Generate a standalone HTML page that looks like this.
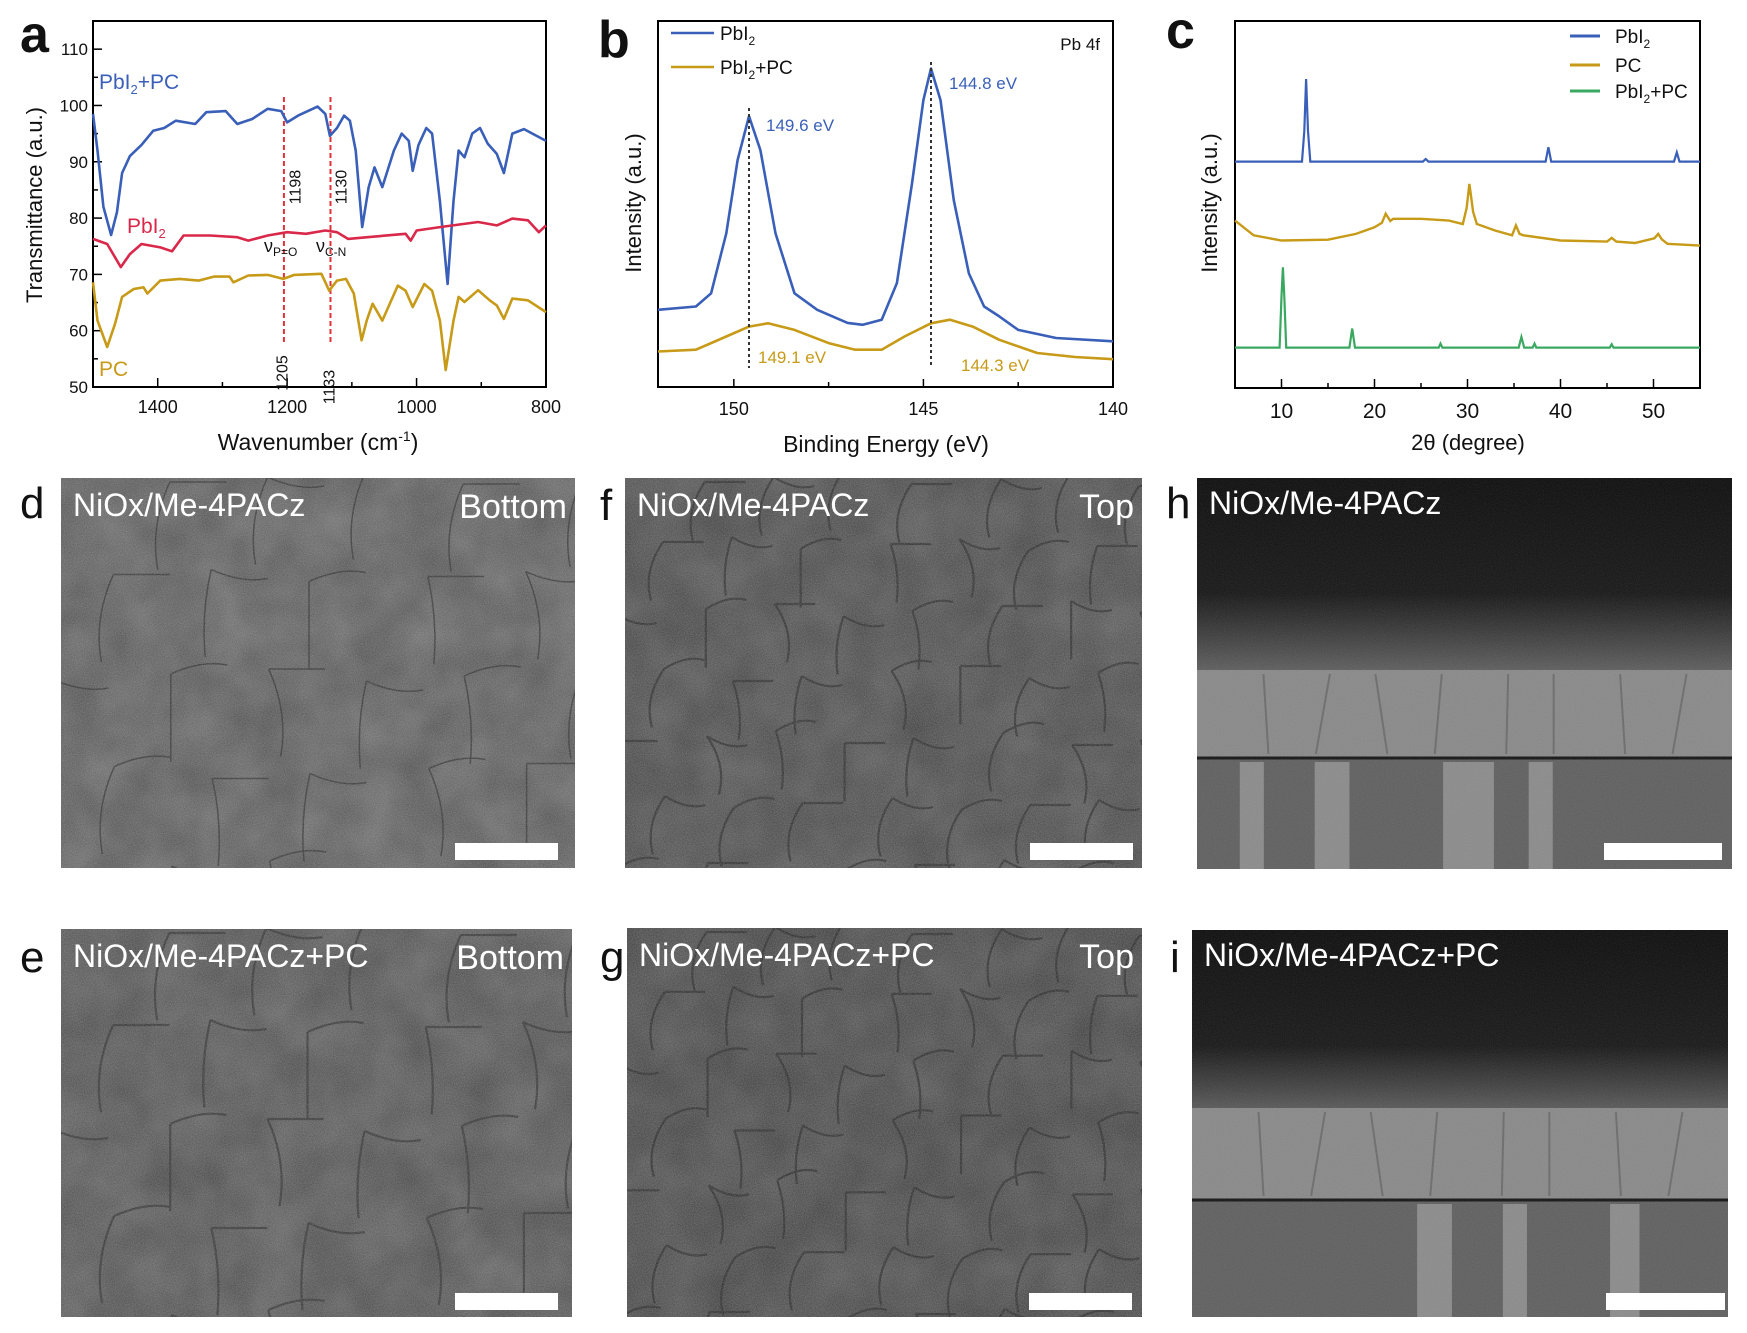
<!DOCTYPE html>
<html><head><meta charset="utf-8">
<style>
html,body{margin:0;padding:0;background:#fff;width:1747px;height:1333px;overflow:hidden;}
svg{display:block;font-family:"Liberation Sans",Arial,sans-serif;}
</style></head>
<body>
<svg id="fig" width="1747" height="1333" viewBox="0 0 1747 1333" xmlns="http://www.w3.org/2000/svg">
<defs>
<filter id="grain" x="0" y="0" width="100%" height="100%">
<feTurbulence type="fractalNoise" baseFrequency="0.9" numOctaves="2" seed="3"/>
<feColorMatrix type="matrix" values="0 0 0 0 1  0 0 0 0 1  0 0 0 0 1  0 0 0 0.28 0"/>
</filter>
<filter id="grainlite" x="0" y="0" width="100%" height="100%">
<feTurbulence type="fractalNoise" baseFrequency="0.9" numOctaves="2" seed="5"/>
<feColorMatrix type="matrix" values="0 0 0 0 1  0 0 0 0 1  0 0 0 0 1  0 0 0 0.12 0"/>
</filter>
<filter id="blotch" x="0" y="0" width="100%" height="100%">
<feTurbulence type="fractalNoise" baseFrequency="0.02" numOctaves="3" seed="7"/>
<feColorMatrix type="matrix" values="0 0 0 0 0  0 0 0 0 0  0 0 0 0 0  0 0 0 0.35 0"/>
</filter>
<linearGradient id="hgrad" x1="0" y1="0" x2="0" y2="1">
<stop offset="0" stop-color="#0a0a0a"/><stop offset="0.6" stop-color="#141414"/><stop offset="1" stop-color="#5a5a5a"/>
</linearGradient>
<linearGradient id="igrad" x1="0" y1="0" x2="0" y2="1">
<stop offset="0" stop-color="#0a0a0a"/><stop offset="0.65" stop-color="#151515"/><stop offset="1" stop-color="#555"/>
</linearGradient>
</defs>
<g id="charts"></g>
<g id="sem"></g>
</svg>
<script>
// ---------- Panel a data (FTIR) ----------
const ftirBlueX=[1500,1493,1484,1472,1463,1455,1443,1425,1407,1390,1372,1342,1325,1295,1277,1254,1230,1209,1200,1183,1153,1141,1134,1123,1112,1103,1094,1084,1074,1065,1053,1035,1023,1012,1006,997,985,976,964,952,943,935,926,914,902,890,876,865,852,834,800];
const ftirBlueY=[98.5,92,82,77,81,88,91,93,95.5,96,97.3,96.7,98.8,99,96.7,97.6,99.4,99,97,98.2,99.8,98.5,94.6,96,98.2,97.3,92,78.4,85.5,89,85.5,92,95,93.7,88.4,93,96,95,83,68.3,83,92,90.8,95,96,93.2,91.4,88,95,95.8,93.7];
const ftirRedX=[1500,1478,1457,1443,1425,1396,1378,1360,1319,1277,1260,1230,1200,1171,1141,1123,1106,1076,1017,1009,1000,964,905,876,852,828,811,800];
const ftirRedY=[76.3,75.4,71.3,73.6,75.4,74.8,74.1,76.9,76.9,76.6,76,76.9,77.5,77.2,77.8,77.5,76.3,76.6,77.2,76,77.8,78.4,79.3,78.7,79.9,79.6,77.5,78.7];
const ftirGoldX=[1500,1493,1478,1466,1455,1437,1422,1416,1396,1366,1337,1313,1289,1283,1260,1230,1206,1189,1147,1135,1123,1109,1097,1085,1077,1068,1053,1029,1017,1006,988,976,964,955,943,935,926,905,887,876,865,852,828,800];
const ftirGoldY=[68.6,61.8,57.1,61.2,66,67.4,67.7,66.6,68.9,69.2,68.9,69.6,69.6,68.6,69.8,69.9,69.2,69.9,70.1,67.1,68.9,69.2,66.6,58.3,61.8,64.8,61.8,68,67.1,64.2,68.3,67.1,61.8,53,61.8,66,65.1,67.2,65.4,64.5,62.1,65.7,65.4,63.3];
const ftirYTicks=[50,60,70,80,90,100,110];
const ftirXTicks=[1400,1200,1000,800];
const ftirMarks=[1205,1133];
// ---------- Panel b data (XPS) ----------
const xpsBlueX=[152.0,151.0,150.6,150.2,149.9,149.6,149.3,148.9,148.4,147.8,147.0,146.6,146.1,145.7,145.3,145.0,144.8,144.55,144.2,143.8,143.4,143.0,142.5,141.5,140.0];
const xpsBlueY=[21.1,22,25.6,42,62,74,64.7,42,25.6,21.1,17.5,17,18.4,28.4,55.6,78.4,87,78.4,51,31,22,19.3,15.6,13.4,12.5];
const xpsGoldX=[152,151,150.2,149.6,149.1,148.4,147.5,146.8,146.1,145.5,144.8,144.3,143.7,143.0,142.0,141.0,140];
const xpsGoldY=[9.7,10.2,13.8,16.5,17.4,15.6,12,10.2,10.2,13.8,17.4,18.4,16.5,12.9,9.3,8.2,7.6];
const xpsXTicks=[150,145,140];
const xpsPeaks=[149.6,144.8];
// ---------- Panel c data (XRD) ----------
const xrdBlueX=[5,12.2,12.45,12.65,12.85,13.1,25.2,25.5,25.8,38.4,38.7,39.0,52.2,52.5,52.8,55];
const xrdBlueY=[61.7,61.7,70,84.2,70,61.7,61.7,62.4,61.7,61.7,65.6,61.7,61.7,64.2,61.7,61.7];
const xrdGoldX=[5,7,10,15,18,20,20.8,21.2,21.7,22,25,28,29.5,29.9,30.2,30.6,31,33,34.8,35.2,35.6,36,40,45,45.5,46,48,50.1,50.5,50.9,51.5,55];
const xrdGoldY=[45.6,41.6,40.2,40.4,42,43.8,45,47.5,45.5,46.1,46.1,45.6,44.7,49,55.6,48,44.7,42.9,41.6,44.3,42,41.6,40.2,39.9,40.9,39.9,39.5,40.8,42,40.5,39.3,38.8];
const xrdGreenX=[5,9.8,10.0,10.15,10.3,10.5,17.3,17.6,17.9,26.9,27.1,27.3,35.5,35.8,36.1,37.0,37.2,37.4,45.3,45.5,45.7,55];
const xrdGreenY=[11,11,25,32.9,25,11,11,16.2,11,11,12.1,11,11,13.9,11,11,12.1,11,11,11.9,11,11];
const xrdXTicks=[10,20,30,40,50];

const NS="http://www.w3.org/2000/svg";
const root=document.getElementById('charts');
function mk(tag,attrs,parent){const e=document.createElementNS(NS,tag);for(const k in attrs)e.setAttribute(k,attrs[k]);(parent||root).appendChild(e);return e;}
function txt(s,attrs,parent){const e=mk('text',attrs,parent);e.textContent=s;return e;}
function pathFrom(xs,ys,sx,sy){return xs.map((v,i)=>(i?'L':'M')+sx(v).toFixed(1)+','+sy(ys[i]).toFixed(1)).join('');}

// ===== Panel a =====
(function(){
const X0=93,X1=546,Y0=21,Y1=387;
const sx=v=>X0+(1500-v)/700*(X1-X0);
const sy=v=>Y1-(v-50)/65*(Y1-Y0);
const g=mk('g',{});


const fr=mk('rect',{x:X0,y:Y0,width:X1-X0,height:Y1-Y0,fill:'none',stroke:'#000','stroke-width':2},g);


for(let v=55;v<=110;v+=10){const t=mk('line',{x1:X0,x2:X0+5,y1:sy(v),y2:sy(v),stroke:'#000','stroke-width':1.5},g);}
ftirYTicks.forEach(v=>{
 const t=mk('line',{x1:X0,x2:X0+9,y1:sy(v),y2:sy(v),stroke:'#000','stroke-width':1.5},g);
 
 
 const l=txt(String(v),{x:X0-5,y:sy(v)+6,'text-anchor':'end','font-size':17,fill:'#111'},g);
 
 
});
[1300,1100,900].forEach(v=>{const t=mk('line',{x1:sx(v),x2:sx(v),y1:Y1,y2:Y1-5,stroke:'#000','stroke-width':1.5},g);});
ftirXTicks.forEach(v=>{
 const t=mk('line',{x1:sx(v),x2:sx(v),y1:Y1,y2:Y1-9,stroke:'#000','stroke-width':1.5},g);
 
 
 const l=txt(String(v),{x:sx(v),y:413,'text-anchor':'middle','font-size':18,fill:'#111'},g);
 
 
});
const xt=txt('Wavenumber (cm',{x:318,y:450,'text-anchor':'middle','font-size':23,fill:'#111'},g);


const sup=mk('tspan',{'font-size':14,dy:-9},xt);sup.textContent='-1';
const cl=mk('tspan',{'font-size':23,dy:9},xt);cl.textContent=')';
const yt=txt('Transmittance (a.u.)',{x:0,y:0,'text-anchor':'middle','font-size':22,fill:'#111',transform:'translate(42,205) rotate(-90)'},g);


ftirMarks.forEach(v=>{
 const d=mk('line',{x1:sx(v),x2:sx(v),y1:sy(101.5),y2:sy(57.5),stroke:'#e0303a','stroke-width':2,'stroke-dasharray':'5,3'},g);
 
 
});
const s1=mk('path',{d:pathFrom(ftirBlueX,ftirBlueY,sx,sy),fill:'none',stroke:'#3a5fb8','stroke-width':2.6,'stroke-linejoin':'round'},g);


const s2=mk('path',{d:pathFrom(ftirRedX,ftirRedY,sx,sy),fill:'none',stroke:'#d9284a','stroke-width':2.6,'stroke-linejoin':'round'},g);


const s3=mk('path',{d:pathFrom(ftirGoldX,ftirGoldY,sx,sy),fill:'none',stroke:'#c79a17','stroke-width':2.6,'stroke-linejoin':'round'},g);


const lab=[['1198',296,187],['1130',342,187],['1205',283,373],['1133',330,387]];
lab.forEach(a=>{const e=txt(a[0],{x:0,y:0,'text-anchor':'middle','dominant-baseline':'central','font-size':16,fill:'#111',transform:`translate(${a[1]},${a[2]}) rotate(-90)`},g);});
const n1=txt('ν',{x:264,y:252,'font-size':18,fill:'#111'},g);


const n1s=mk('tspan',{'font-size':12,dy:4},n1);n1s.textContent='P=O';
const n2=txt('ν',{x:316,y:252,'font-size':18,fill:'#111'},g);


const n2s=mk('tspan',{'font-size':12,dy:4},n2);n2s.textContent='C-N';
function subLabel(main,sub,rest,x,y,color,name){const e=txt(main,{x:x,y:y,'font-size':21,fill:color},g);if(sub){const s=mk('tspan',{'font-size':13,dy:5},e);s.textContent=sub;const r=mk('tspan',{'font-size':21,dy:-5},e);r.textContent=rest;}return e;}
subLabel('PbI','2','+PC',99,89,'#3a5fb8','label-pbi2-pc');
subLabel('PbI','2','',127,233,'#d9284a','label-pbi2');
subLabel('PC','','',99,376,'#c79a17','label-pc');
const pl=txt('a',{x:20,y:52,'font-size':52,'font-weight':'bold',fill:'#111'},g);


})();

// ===== Panel b =====
(function(){
const X0=658,X1=1113,Y0=21,Y1=387;
const sx=v=>X0+(152-v)/12*(X1-X0);
const sy=v=>Y1-v/100*(Y1-Y0);
const g=mk('g',{});


const fr=mk('rect',{x:X0,y:Y0,width:X1-X0,height:Y1-Y0,fill:'none',stroke:'#000','stroke-width':2},g);


[147.5,142.5].forEach(v=>{const t=mk('line',{x1:sx(v),x2:sx(v),y1:Y1,y2:Y1-5,stroke:'#000','stroke-width':1.5},g);});
xpsXTicks.forEach(v=>{
 const t=mk('line',{x1:sx(v),x2:sx(v),y1:Y1,y2:Y1-8,stroke:'#000','stroke-width':1.5},g);
 
 
 const l=txt(String(v),{x:sx(v),y:415,'text-anchor':'middle','font-size':18,fill:'#111'},g);
 
 
});
const xt=txt('Binding Energy (eV)',{x:886,y:452,'text-anchor':'middle','font-size':23,fill:'#111'},g);


const yt=txt('Intensity (a.u.)',{x:0,y:0,'text-anchor':'middle','font-size':22,fill:'#111',transform:'translate(641,203) rotate(-90)'},g);


const s2=mk('path',{d:pathFrom(xpsGoldX,xpsGoldY,sx,sy),fill:'none',stroke:'#c79a17','stroke-width':2.6,'stroke-linejoin':'round'},g);


const s1=mk('path',{d:pathFrom(xpsBlueX,xpsBlueY,sx,sy),fill:'none',stroke:'#3a5fb8','stroke-width':2.6,'stroke-linejoin':'round'},g);


xpsPeaks.forEach((v,i)=>{
 const d=mk('line',{x1:sx(v),x2:sx(v),y1:i?62:108,y2:368,stroke:'#333','stroke-width':2,'stroke-dasharray':'3,3'},g);
 
 
});
[['149.6 eV',766,131,'#3a5fb8'],['144.8 eV',949,89,'#3a5fb8'],['149.1 eV',758,363,'#c79a17'],['144.3 eV',961,371,'#c79a17']].forEach(a=>{
 const e=txt(a[0],{x:a[1],y:a[2],'text-anchor':'start','font-size':17,fill:a[3]},g);
 
 
});
const l1=mk('line',{x1:671,x2:714,y1:33,y2:33,stroke:'#3a5fb8','stroke-width':2.6},g);


const l2=mk('line',{x1:671,x2:714,y1:67,y2:67,stroke:'#c79a17','stroke-width':2.6},g);


const t1=txt('PbI',{x:720,y:40,'font-size':19,fill:'#111'},g);


let s=mk('tspan',{'font-size':12,dy:5},t1);s.textContent='2';
const t2=txt('PbI',{x:720,y:74,'font-size':19,fill:'#111'},g);


s=mk('tspan',{'font-size':12,dy:5},t2);s.textContent='2';
s=mk('tspan',{'font-size':19,dy:-5},t2);s.textContent='+PC';
const pb=txt('Pb 4f',{x:1100,y:50,'text-anchor':'end','font-size':17,fill:'#111'},g);


const pl=txt('b',{x:598,y:57,'font-size':52,'font-weight':'bold',fill:'#111'},g);


})();

// ===== Panel c =====
(function(){
const X0=1235,X1=1700,Y0=21,Y1=388;
const sx=v=>X0+(v-5)/50*(X1-X0);
const sy=v=>Y1-v/100*(Y1-Y0);
const g=mk('g',{});


const fr=mk('rect',{x:X0,y:Y0,width:X1-X0,height:Y1-Y0,fill:'none',stroke:'#000','stroke-width':2},g);


[15,25,35,45].forEach(v=>{const t=mk('line',{x1:sx(v),x2:sx(v),y1:Y1,y2:Y1-5,stroke:'#000','stroke-width':1.5},g);});
xrdXTicks.forEach(v=>{
 const t=mk('line',{x1:sx(v),x2:sx(v),y1:Y1,y2:Y1-9,stroke:'#000','stroke-width':1.5},g);
 
 
 const l=txt(String(v),{x:sx(v),y:418,'text-anchor':'middle','font-size':21,fill:'#111'},g);
 
 
});
const xt=txt('2θ (degree)',{x:1468,y:450,'text-anchor':'middle','font-size':22,fill:'#111'},g);


const yt=txt('Intensity (a.u.)',{x:0,y:0,'text-anchor':'middle','font-size':22,fill:'#111',transform:'translate(1217,203) rotate(-90)'},g);


const s1=mk('path',{d:pathFrom(xrdBlueX,xrdBlueY,sx,sy),fill:'none',stroke:'#3a5fb8','stroke-width':2.2},g);


const s2=mk('path',{d:pathFrom(xrdGoldX,xrdGoldY,sx,sy),fill:'none',stroke:'#c79a17','stroke-width':2.4},g);


const s3=mk('path',{d:pathFrom(xrdGreenX,xrdGreenY,sx,sy),fill:'none',stroke:'#3aa860','stroke-width':2.2},g);


const L=[['#3a5fb8',36,'PbI','2',''],['#c79a17',65,'PC','',''],['#3aa860',91,'PbI','2','+PC']];
L.forEach(a=>{
 const ln=mk('line',{x1:1570,x2:1600,y1:a[1],y2:a[1],stroke:a[0],'stroke-width':3},g);
 
 
 const t=txt(a[2],{x:1615,y:a[1]+7,'font-size':19,fill:'#111'},g);
 
 
 if(a[3]){let s=mk('tspan',{'font-size':12,dy:5},t);s.textContent=a[3];if(a[4]){s=mk('tspan',{'font-size':19,dy:-5},t);s.textContent=a[4];}}
});
const pl=txt('c',{x:1166,y:48,'font-size':52,'font-weight':'bold',fill:'#111'},g);


})();

// ===== SEM panels =====
const sem=document.getElementById('sem');
const panels=[
 {id:'d',x:61,y:478,w:514,h:390,bg:'#6f6f6f',crack:'#2a2a2a',text:'NiOx/Me-4PACz',right:'Bottom',lx:20,ly:518,bar:[455,843,103,17]},
 {id:'f',x:625,y:478,w:517,h:390,bg:'#5a5a5a',crack:'#262626',text:'NiOx/Me-4PACz',right:'Top',lx:600,ly:520,bar:[1030,843,103,17]},
 {id:'h',x:1197,y:478,w:535,h:391,bg:'cross1',text:'NiOx/Me-4PACz',right:'',lx:1166,ly:518,bar:[1604,843,118,17]},
 {id:'e',x:61,y:929,w:511,h:388,bg:'#646464',crack:'#2c2c2c',text:'NiOx/Me-4PACz+PC',right:'Bottom',lx:20,ly:972,bar:[455,1293,103,17]},
 {id:'g',x:627,y:928,w:515,h:389,bg:'#545454',crack:'#232323',text:'NiOx/Me-4PACz+PC',right:'Top',lx:600,ly:972,bar:[1029,1293,103,17]},
 {id:'i',x:1192,y:930,w:536,h:387,bg:'cross2',text:'NiOx/Me-4PACz+PC',right:'',lx:1170,ly:972,bar:[1606,1293,119,17]}
];
function smk(tag,attrs,parent){const e=document.createElementNS(NS,tag);for(const k in attrs)e.setAttribute(k,attrs[k]);parent.appendChild(e);return e;}
panels.forEach(p=>{
 const g=smk('g',{},sem);
 
 
 const cp=smk('clipPath',{id:'clip'+p.id},g);
 smk('rect',{x:p.x,y:p.y,width:p.w,height:p.h},cp);
 const inner=smk('g',{'clip-path':'url(#clip'+p.id+')'},g);
 const cross=(p.bg==='cross1'||p.bg==='cross2');
 if(cross){
  const top=p.bg==='cross1'?192:178, layerH=p.bg==='cross1'?88:92;
  smk('rect',{x:p.x,y:p.y,width:p.w,height:top,fill:p.bg==='cross1'?'url(#hgrad)':'url(#igrad)'},inner);
  smk('rect',{x:p.x,y:p.y+top,width:p.w,height:layerH,fill:'#858585'},inner);
  smk('rect',{x:p.x,y:p.y+top+layerH,width:p.w,height:p.h-top-layerH,fill:'#5c5c5c'},inner);
  smk('line',{x1:p.x,x2:p.x+p.w,y1:p.y+top+layerH,y2:p.y+top+layerH,stroke:'#111','stroke-width':3},inner);
  const stripes=p.bg==='cross1'?[[0.08,0.03],[0.22,0.05],[0.46,0.08],[0.62,0.03]]:[[0.42,0.05],[0.58,0.03],[0.78,0.04]];
  stripes.forEach(s=>smk('rect',{x:p.x+s[0]*p.w,y:p.y+top+layerH+4,width:s[1]*p.w+8,height:p.h,fill:'#9a9a9a',opacity:0.7},inner));
  for(let k=1;k<9;k++){smk('line',{x1:p.x+k*p.w/9+(k%3)*7,x2:p.x+k*p.w/9+(k%2)*12,y1:p.y+top+4,y2:p.y+top+layerH-4,stroke:'#5c5c5c','stroke-width':2,opacity:0.7},inner);}
 } else {
  smk('rect',{x:p.x,y:p.y,width:p.w,height:p.h,fill:p.bg},inner);
  smk('rect',{x:p.x,y:p.y,width:p.w,height:p.h,filter:'url(#blotch)'},inner);
  const cols=p.id==='d'||p.id==='e'?5:7, rows=p.id==='d'||p.id==='e'?4:6;
  let d='';
  for(let r=0;r<=rows;r++){for(let c=0;c<=cols;c++){
   const cx=p.x+(c+((r%2)?0.5:0))*p.w/cols, cy=p.y+r*p.h/rows;
   const jx=((c*37+r*53)%21)-10, jy=((c*29+r*41)%17)-8;
   d+=`M${cx+jx},${cy+jy} q${p.w/cols*0.3},${((c+r)%3-1)*14} ${p.w/cols*0.55},${((c+r)%3-1)*9} M${cx+jx},${cy+jy} q${((c*r)%5-2)*10},${p.h/rows*0.45} ${((c*r)%5-2)*6},${p.h/rows*0.9}`;
  }}
  smk('path',{d:d,fill:'none',stroke:p.crack,'stroke-width':p.id==='d'?1.5:2.2,opacity:0.8},inner);
 }
 smk('rect',{x:p.x,y:p.y,width:p.w,height:p.h,filter:cross?'url(#grainlite)':'url(#grain)'},inner);
 const t=smk('text',{x:p.x+12,y:p.y+(cross?36:38),'font-size':32,fill:'#fff'},g);
 t.textContent=p.text;
 
 
 if(p.right){
  const r=smk('text',{x:p.x+p.w-8,y:p.y+40,'text-anchor':'end','font-size':34,fill:'#fff'},g);
  r.textContent=p.right;
  
  
 }
 const b=smk('rect',{x:p.bar[0],y:p.bar[1],width:p.bar[2],height:p.bar[3],fill:'#fff'},g);
 
 
 const L=smk('text',{x:p.lx,y:p.ly,'font-size':44,fill:'#111'},g);
 L.textContent=p.id;
 
 
});
</script>
</body></html>
